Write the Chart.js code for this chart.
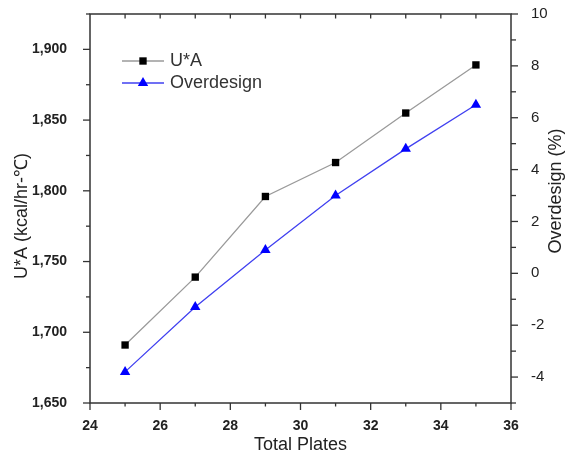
<!DOCTYPE html>
<html>
<head>
<meta charset="utf-8">
<script src="https://cdn.jsdelivr.net/npm/chart.js@4/dist/chart.umd.min.js"></script>
<style>
  html, body { margin: 0; padding: 0; background: #fff; }
  canvas { display: block; }
</style>
</head>
<body>
<canvas id="c" width="565" height="454"></canvas>
<script>
// ---- data ----
const plates = [25, 27, 29, 31, 33, 35];
const uaValues = [1691, 1739, 1796, 1820, 1855, 1889];
const overdesignValues = [-3.8, -1.3, 0.9, 3.0, 4.8, 6.5];
const xTicks = [24, 26, 28, 30, 32, 34, 36];
const uaTicks = [1650, 1700, 1750, 1800, 1850, 1900];
const odTicks = [-4, -2, 0, 2, 4, 6, 8, 10];
const seriesNames = ['U*A', 'Overdesign'];
const axisTitles = { x: 'Total Plates', yL: 'U*A (kcal/hr-℃)', yR: 'Overdesign (%)' };

const FONT = "'Liberation Sans', Arial, sans-serif";
const TXT = '#222';

const framePlugin = {
  id: 'frame',
  afterDatasetsDraw(chart) {
    const { ctx, chartArea: { left, right, top, bottom }, scales } = chart;
    const x = scales.x, yL = scales.yL, yR = scales.yR;
    ctx.save();
    ctx.strokeStyle = '#333';
    ctx.lineWidth = 1.5;
    ctx.strokeRect(left, top, right - left, bottom - top);
    ctx.lineWidth = 1.3;
    const ln = (x1, y1, x2, y2) => { ctx.beginPath(); ctx.moveTo(x1, y1); ctx.lineTo(x2, y2); ctx.stroke(); };
    for (let v = x.min; v <= x.max; v += 1) {
      const px = x.getPixelForValue(v);
      const major = v % 2 === 0;
      ln(px, bottom, px, bottom + (major ? 7 : 3.5));
      if (v > x.min && v < x.max) ln(px, top, px, top + 4.5);
    }
    for (let v = yL.min; v <= yL.max + 0.01; v += 25) {
      const py = yL.getPixelForValue(v);
      const major = v % 50 === 0;
      ln(left, py, left - (major ? 7 : 4), py);
    }
    for (let v = yR.min; v <= yR.max; v += 1) {
      const py = yR.getPixelForValue(v);
      const major = v % 2 === 0;
      ln(right, py, right + (major ? 7 : 5), py);
    }
    ctx.fillStyle = TXT;
    ctx.font = '18px ' + FONT;
    ctx.textAlign = 'center';
    ctx.textBaseline = 'middle';
    ctx.save(); ctx.translate(22, 216); ctx.rotate(-Math.PI / 2); ctx.fillText(axisTitles.yL, 0, 0); ctx.restore();
    ctx.save(); ctx.translate(556, 191); ctx.rotate(-Math.PI / 2); ctx.fillText(axisTitles.yR, 0, 0); ctx.restore();
    ctx.restore();
  }
};

const legendPlugin = {
  id: 'customLegend',
  afterDraw(chart) {
    const { ctx } = chart;
    const rows = [61, 83];
    ctx.save();
    chart.data.datasets.forEach((ds, i) => {
      const y = rows[i];
      ctx.strokeStyle = ds.borderColor;
      ctx.lineWidth = ds.borderWidth;
      ctx.beginPath(); ctx.moveTo(122, y); ctx.lineTo(164, y); ctx.stroke();
      ctx.fillStyle = ds.pointBackgroundColor;
      ctx.strokeStyle = ds.pointBorderColor;
      Chart.helpers.drawPoint(ctx, {
        pointStyle: ds.pointStyle, radius: ds.pointRadius, borderWidth: 0, rotation: 0
      }, 143, y);
      ctx.fillStyle = '#333';
      ctx.font = '18px ' + FONT;
      ctx.textBaseline = 'middle';
      ctx.textAlign = 'left';
      ctx.fillText(ds.label, 170, y);
    });
    ctx.restore();
  }
};

const fixV = w => s => { s.width = w; s.paddingTop = 0; s.paddingBottom = 0; };

new Chart(document.getElementById('c'), {
  type: 'line',
  data: {
    datasets: [
      {
        label: seriesNames[0],
        data: plates.map((p, i) => ({ x: p, y: uaValues[i] })),
        yAxisID: 'yL',
        borderColor: '#9a9a9a',
        borderWidth: 1.3,
        pointStyle: 'rect',
        pointRadius: 5.2,
        pointBackgroundColor: '#000',
        pointBorderColor: '#000',
        pointBorderWidth: 0
      },
      {
        label: seriesNames[1],
        data: plates.map((p, i) => ({ x: p, y: overdesignValues[i] })),
        yAxisID: 'yR',
        borderColor: '#4040f0',
        borderWidth: 1.3,
        pointStyle: 'triangle',
        pointRadius: 6,
        pointBackgroundColor: '#0000ff',
        pointBorderColor: '#0000ff',
        pointBorderWidth: 0
      }
    ]
  },
  options: {
    responsive: false,
    animation: false,
    layout: { padding: { top: 14, left: 0, right: 0, bottom: 0 } },
    plugins: { legend: { display: false }, tooltip: { enabled: false } },
    scales: {
      x: {
        type: 'linear', min: 24, max: 36,
        afterBuildTicks: s => { s.ticks = xTicks.map(v => ({ value: v })); },
        afterFit: s => { s.height = 51; s.paddingLeft = 0; s.paddingRight = 0; },
        grid: { display: false }, border: { display: false },
        ticks: { font: { family: FONT, size: 14, weight: 'bold' }, color: TXT, padding: 7, maxRotation: 0, autoSkip: false },
        title: { display: true, text: axisTitles.x, color: TXT, font: { family: FONT, size: 18, lineHeight: 1 }, padding: { top: 0, bottom: 0 } }
      },
      yL: {
        type: 'linear', position: 'left', min: 1650, max: 1925,
        afterBuildTicks: s => { s.ticks = uaTicks.map(v => ({ value: v })); },
        afterFit: fixV(90),
        grid: { display: false }, border: { display: false },
        ticks: { font: { family: FONT, size: 14, weight: 'bold' }, color: TXT, padding: 15,
                 callback: v => v.toLocaleString('en-US') }
      },
      yR: {
        type: 'linear', position: 'right', min: -5, max: 10,
        afterBuildTicks: s => { s.ticks = odTicks.map(v => ({ value: v })); },
        afterFit: fixV(54),
        grid: { display: false }, border: { display: false },
        ticks: { font: { family: FONT, size: 15 }, color: TXT, padding: 12 }
      }
    }
  },
  plugins: [framePlugin, legendPlugin]
});
</script>
</body>
</html>
